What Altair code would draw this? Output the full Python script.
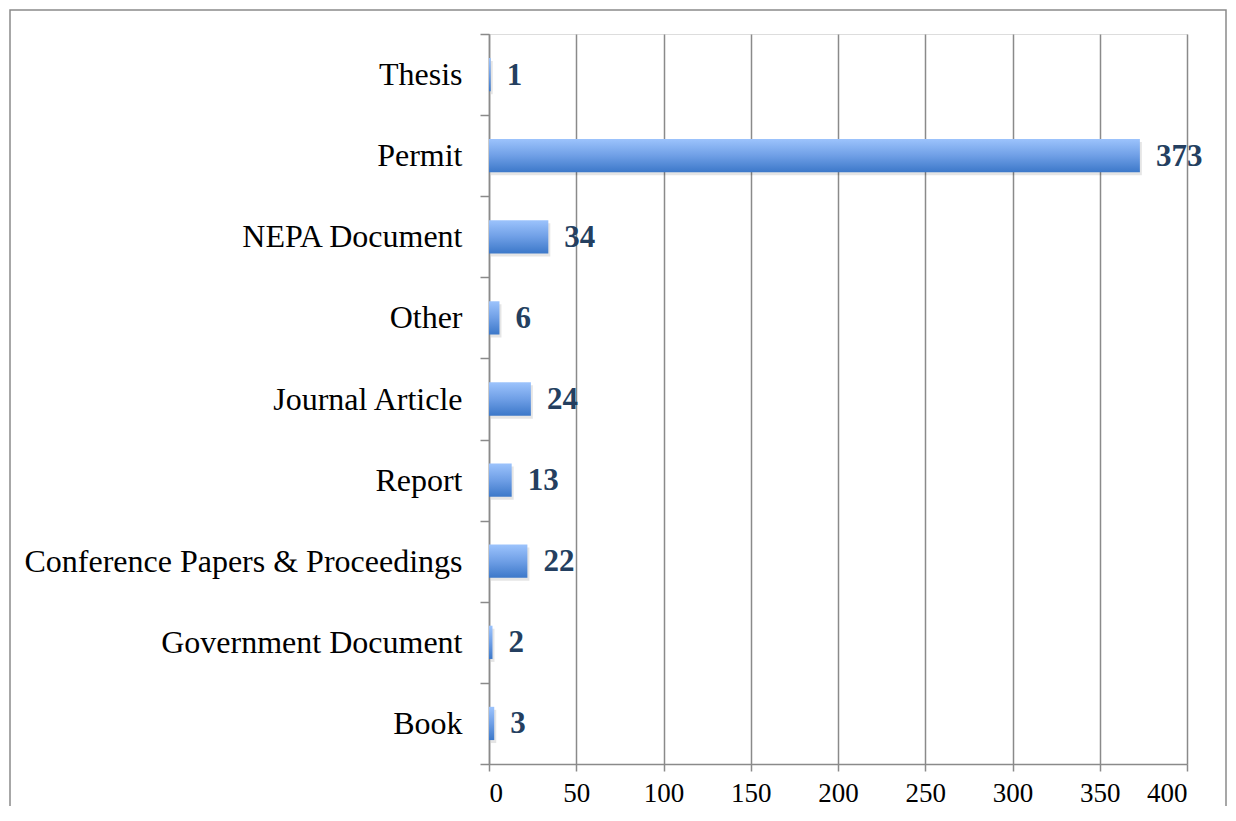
import altair as alt
import pandas as pd

categories = ["Thesis", "Permit", "NEPA Document", "Other", "Journal Article",
              "Report", "Conference Papers & Proceedings", "Government Document", "Book"]
counts = [1, 373, 34, 6, 24, 13, 22, 2, 3]
x_ticks = [0, 50, 100, 150, 200, 250, 300, 350, 400]

df = pd.DataFrame({"category": categories, "count": counts})

GRID = "#8a8a8a"
FONT = "Liberation Serif"

x_enc = alt.X("count:Q", scale=alt.Scale(domain=[0, 400], nice=False),
              axis=alt.Axis(values=x_ticks, title=None, grid=True, gridColor=GRID,
                            gridWidth=1.5, domainColor=GRID, domainWidth=1.5,
                            tickColor=GRID, tickWidth=1.5, tickSize=7,
                            labelFont=FONT, labelFontSize=27, labelColor="#000",
                            labelPadding=9))
y_enc = alt.Y("category:N", sort=categories,
              scale=alt.Scale(paddingInner=0, paddingOuter=0),
              axis=alt.Axis(title=None, tickBand="extent", domainColor=GRID,
                            domainWidth=1.5, tickColor=GRID, tickWidth=1.5,
                            tickSize=9, labelFont=FONT, labelFontSize=32,
                            labelColor="#000", labelPadding=18, labelLimit=600))

base = alt.Chart(df)

border = base.mark_rect(fill=None, stroke=GRID, strokeWidth=1.5).encode(
    x=alt.value(-479), x2=alt.value(737), y=alt.value(-24), y2=alt.value(820)
).transform_filter(alt.datum.category == "Thesis")

BAR_H = {"band": 0.41}

shadow = base.mark_bar(color="#000000", opacity=0.10, xOffset=2, yOffset=3,
                       height=BAR_H).encode(x=x_enc, y=y_enc)

grad = alt.Gradient(gradient="linear", x1=0, x2=0, y1=0, y2=1,
                    stops=[alt.GradientStop(color="#9cc3fc", offset=0),
                           alt.GradientStop(color="#6f9fe6", offset=0.5),
                           alt.GradientStop(color="#3c78c9", offset=1)])
bars = base.mark_bar(color=grad, height=BAR_H).encode(x=x_enc, y=y_enc)

labels = base.mark_text(align="left", baseline="middle", dx=16, dy=1,
                        font=FONT, fontSize=31, fontWeight="bold",
                        color="#243f60").encode(
    x=x_enc, y=y_enc, text="count:Q")

chart = alt.layer(border, shadow, bars, labels).properties(
    width=698, height=730,
    autosize="none",
    padding={"left": 481, "top": 26, "right": 41, "bottom": 42},
).configure_view(stroke=None).configure(background="white")

chart.save("out.html", embed_options={"renderer": "svg", "actions": False})
